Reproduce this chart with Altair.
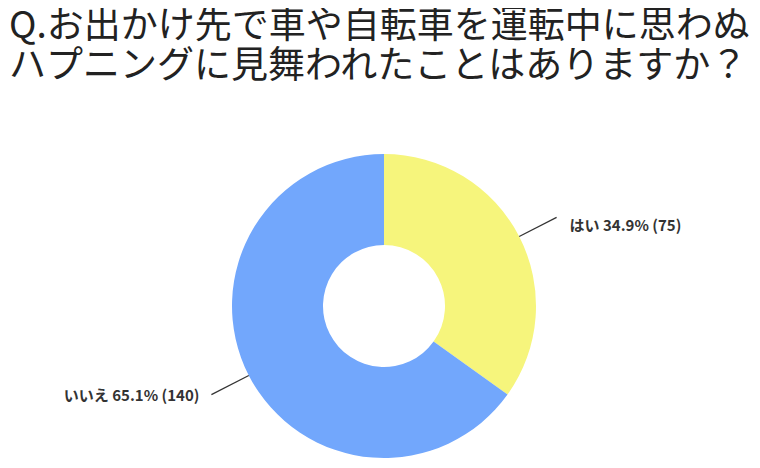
import math
import altair as alt
import pandas as pd

# ---- data ----
title_lines = ["Q.お出かけ先で車や自転車を運転中に思わぬ", "ハプニングに見舞われたことはありますか？"]
labels = ["はい", "いいえ"]
percents = [34.9, 65.1]
counts = [75, 140]
colors = ["#F6F57C", "#72A7FC"]

# ---- layout / style ----
W, H = 744, 452
CX, CY = 376, 298          # donut centre inside plot area (px)
R_OUT, R_IN = 152, 61
R_L0, R_L1 = 152, 194      # leader line radii
FONT = "Noto Sans CJK JP"

df = pd.DataFrame({"label": labels, "pct": percents, "count": counts, "order": [0, 1]})
df["text"] = [f"{l} {p}% ({c})" for l, p, c in zip(labels, percents, counts)]

# mid-angle of each slice (clockwise from 12 o'clock), derived from the values
tot = sum(percents)
mids, acc = [], 0.0
for p in percents:
    mids.append((acc + p / 2) / tot * 2 * math.pi)
    acc += p
df["x0"] = [R_L0 * math.sin(a) for a in mids]
df["y0"] = [R_L0 * math.cos(a) for a in mids]
df["x1"] = [R_L1 * math.sin(a) for a in mids]
df["y1"] = [R_L1 * math.cos(a) for a in mids]
df["side"] = ["right" if math.sin(a) >= 0 else "left" for a in mids]

xs = alt.Scale(domain=[-CX, W - CX], nice=False, zero=False)
ys = alt.Scale(domain=[-(H - CY), CY], nice=False, zero=False)

base = alt.Chart(df)

donut = base.mark_arc(outerRadius=R_OUT, innerRadius=R_IN, strokeWidth=0).encode(
    theta=alt.Theta("pct:Q", stack=True),
    order=alt.Order("order:Q"),
    color=alt.Color("label:N", scale=alt.Scale(domain=labels, range=colors), legend=None),
    x=alt.X(datum=0, scale=xs, axis=None),
    y=alt.Y(datum=0, scale=ys, axis=None),
)

leaders = base.mark_rule(color="#333333", strokeWidth=1.2).encode(
    x=alt.X("x0:Q", scale=xs, axis=None),
    y=alt.Y("y0:Q", scale=ys, axis=None),
    x2="x1:Q",
    y2="y1:Q",
)

text_right = base.transform_filter(alt.datum.side == "right").mark_text(
    align="left", baseline="middle", dx=13, dy=9, font=FONT, fontSize=15,
    fontWeight="bold", color="#333333",
).encode(
    x=alt.X("x1:Q", scale=xs, axis=None),
    y=alt.Y("y1:Q", scale=ys, axis=None),
    text="text:N",
)

text_left = base.transform_filter(alt.datum.side == "left").mark_text(
    align="right", baseline="middle", dx=-12, dy=1, font=FONT, fontSize=15,
    fontWeight="bold", color="#333333",
).encode(
    x=alt.X("x1:Q", scale=xs, axis=None),
    y=alt.Y("y1:Q", scale=ys, axis=None),
    text="text:N",
)

title = alt.Chart(pd.DataFrame({"t": ["\n".join(title_lines)]})).mark_text(
    align="left", baseline="top", font=FONT, fontSize=37, lineHeight=40,
    lineBreak="\n", color="#222222",
).encode(x=alt.value(1), y=alt.value(1), text="t:N")

chart = alt.layer(donut, leaders, text_right, text_left, title).properties(
    width=W, height=H, padding=0, background="white",
    autosize=alt.AutoSizeParams(type="none"),
).configure_view(strokeWidth=0, stroke="transparent")

chart.save("out.html", embed_options={"renderer": "svg", "actions": False})
